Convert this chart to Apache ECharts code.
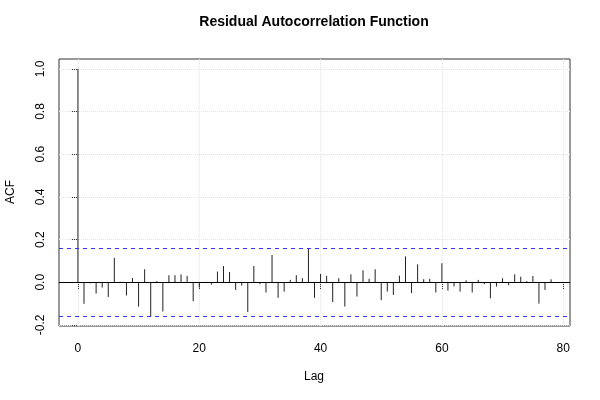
<!DOCTYPE html>
<html>
<head>
<meta charset="utf-8">
<script src="https://cdn.jsdelivr.net/npm/echarts@6/dist/echarts.min.js"></script>
<style>html,body{margin:0;padding:0;background:#fff;}#c{width:600px;height:400px;}</style>
</head>
<body>
<div id="c"></div>
<script>
const lags = [0,1,2,3,4,5,6,7,8,9,10,11,12,13,14,15,16,17,18,19,20,21,22,23,24,25,26,27,28,29,30,31,32,33,34,35,36,37,38,39,40,41,42,43,44,45,46,47,48,49,50,51,52,53,54,55,56,57,58,59,60,61,62,63,64,65,66,67,68,69,70,71,72,73,74,75,76,77,78];
const acf = [1.0,-0.101,-0.005,-0.053,-0.025,-0.069,0.114,0.002,-0.062,0.020,-0.114,0.061,-0.159,0.005,-0.137,0.033,0.033,0.037,0.030,
  -0.089,-0.025,0.002,-0.011,0.050,0.076,0.048,-0.036,-0.016,-0.140,0.076,-0.009,-0.048,0.128,-0.073,-0.044,0.011,0.033,0.019,0.156,-0.073,
  0.039,0.030,-0.093,0.019,-0.114,0.037,-0.067,0.056,0.016,0.061,-0.084,-0.044,-0.059,0.031,0.121,-0.051,0.084,0.014,0.016,-0.048,
  0.089,-0.039,-0.020,-0.044,0.009,-0.048,0.011,-0.009,-0.075,-0.020,0.019,-0.014,0.037,0.026,0.005,0.030,-0.100,-0.036,0.014];
const confLimit = 0.158;
const xTicks = [0,20,40,60,80];
const yTicks = [-0.2,0,0.2,0.4,0.6,0.8,1.0];
const titleText = 'Residual Autocorrelation Function';
const xName = 'Lag';
const yName = 'ACF';

const chart = echarts.init(document.getElementById('c'), null, {renderer:'canvas'});
const FONT = 'Liberation Sans, Arial, Helvetica, sans-serif';
const gridStyle = {color:'#e4e4e4', type:'dotted', width:1};
const markData = [];
xTicks.forEach(v => markData.push({xAxis:v, lineStyle:gridStyle}));
yTicks.forEach(v => markData.push({yAxis:v, lineStyle:gridStyle}));

const refData = [
  {yAxis:confLimit, lineStyle:{color:'#3333ff', type:[4,4], width:1}},
  {yAxis:-confLimit, lineStyle:{color:'#3333ff', type:[4,4], width:1}},
  {yAxis:0, lineStyle:{color:'#000', type:'solid', width:1}}
];

chart.setOption({
  animation:false,
  backgroundColor:'#fff',
  grid:{left:59, right:30, top:59, bottom:74, show:true, borderColor:'#333', borderWidth:1, backgroundColor:'transparent'},
  graphic:[
    {type:'text', x:314, y:22, style:{text:titleText, font:'bold 14px '+FONT, fill:'#000', textAlign:'center', textVerticalAlign:'middle'}},
    {type:'text', x:314, y:377, style:{text:xName, font:'12px '+FONT, fill:'#000', textAlign:'center', textVerticalAlign:'middle'}},
    {type:'text', x:11, y:192, rotation:Math.PI/2, style:{text:yName, font:'12px '+FONT, fill:'#000', textAlign:'center', textVerticalAlign:'middle'}}
  ],
  xAxis:{type:'value', min:-3.12, max:81.12,
    axisLine:{show:false},
    axisTick:{show:true, customValues:xTicks, length:7, lineStyle:{color:'#333'}},
    axisLabel:{customValues:xTicks, fontSize:12, fontFamily:FONT, color:'#000', margin:17},
    splitLine:{show:false}},
  yAxis:{type:'value', min:-0.205, max:1.046,
    axisLine:{show:false},
    axisTick:{show:true, customValues:yTicks, length:7, lineStyle:{color:'#333'}},
    axisLabel:{customValues:yTicks, fontSize:12, fontFamily:FONT, color:'#000', rotate:90, margin:12, formatter:v=>v.toFixed(1)},
    splitLine:{show:false}},
  series:[
    {
      type:'line', data:[], silent:true, z:1,
      markLine:{silent:true, symbol:'none', label:{show:false}, data:markData, z:1}
    },
    {
      type:'custom', z:3,
      data:lags.map((l,i)=>[l, acf[i]]),
      renderItem:function(params, api){
        const p0 = api.coord([api.value(0), 0]);
        const p1 = api.coord([api.value(0), api.value(1)]);
        return {type:'line', shape:{x1:p0[0], y1:p0[1], x2:p1[0], y2:p1[1]}, style:{stroke:'#222', lineWidth:1}};
      },
      markLine:{silent:true, symbol:'none', label:{show:false}, data:refData}
    }
  ]
});
</script>
</body>
</html>
